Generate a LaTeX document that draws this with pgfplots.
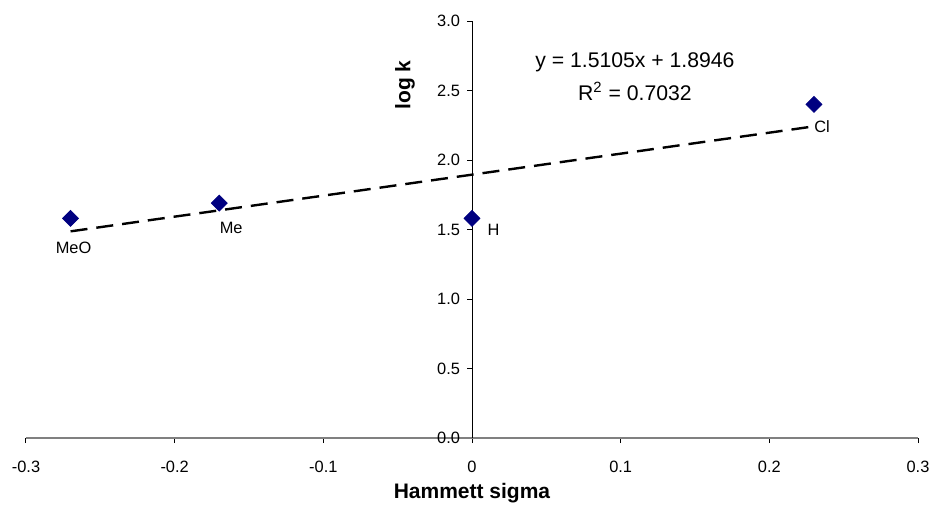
\documentclass[border=0pt]{standalone}
\usepackage{fontspec}
\setmainfont{Liberation Sans}
\usepackage{pgfplots}
\pgfplotsset{compat=1.18}

\definecolor{ptblue}{HTML}{000080}

\begin{document}
\begin{tikzpicture}
\useasboundingbox (0,0) rectangle (466.5pt,255pt);
\begin{axis}[
    at={(13pt,36pt)}, anchor=south west,
    scale only axis,
    width=446pt, height=208.5pt,
    xmin=-0.3, xmax=0.3,
    ymin=0, ymax=3,
    axis x line=bottom,
    axis y line=center,
    axis line style={-},
    x axis line style={draw=gray, line width=0.75pt},
    y axis line style={draw=black, line width=0.5pt},
    hide obscured x ticks=false,
    hide obscured y ticks=false,
    xtick={-0.3,-0.2,-0.1,0,0.1,0.2,0.3},
    xticklabels={-0.3,-0.2,-0.1,0,0.1,0.2,0.3},
    ytick={0,0.5,1,1.5,2,2.5,3},
    yticklabel style={/pgf/number format/.cd,fixed,fixed zerofill,precision=1,assume math mode=true},
    tick align=outside,
    major tick length=2.5pt,
    tick style={black, line width=0.5pt},
    ticklabel style={font=\fontsize{8.2}{9.8}\selectfont},
    xticklabel style={yshift=-5.5pt},
    clip=false,
]
\addplot[black, line width=1.2pt, dash pattern=on 8.5pt off 4.5pt]
  coordinates {(-0.27,1.4868) (0.23,2.2420)};
\addplot[only marks, mark=square*, mark size=2.8pt,
  mark options={rotate=45, fill=ptblue, draw=ptblue}]
  coordinates {(-0.27,1.58) (-0.17,1.69) (0,1.58) (0.23,2.40)};
\node[font=\fontsize{8.2}{9.8}\selectfont] at (axis cs:-0.268,1.37) {MeO};
\node[font=\fontsize{8.2}{9.8}\selectfont] at (axis cs:-0.162,1.51) {Me};
\node[font=\fontsize{8.2}{9.8}\selectfont] at (axis cs:0.0145,1.5) {H};
\node[font=\fontsize{8.2}{9.8}\selectfont] at (axis cs:0.2355,2.24) {Cl};
\node[font=\fontsize{10.6}{12.5}\selectfont] at (axis cs:0.1096,2.705) {y = 1.5105x + 1.8946};
\node[font=\fontsize{10.6}{12.5}\selectfont] at (axis cs:0.1096,2.496) {R\textsuperscript{2} = 0.7032};
\node[font=\bfseries\fontsize{10.5}{12.5}\selectfont, rotate=90] at (axis cs:-0.045,2.54) {log k};
\node[font=\bfseries\fontsize{10.5}{12.5}\selectfont] at (axis cs:0,0) [yshift=-27.5pt] {Hammett sigma};
\end{axis}
\end{tikzpicture}
\end{document}
